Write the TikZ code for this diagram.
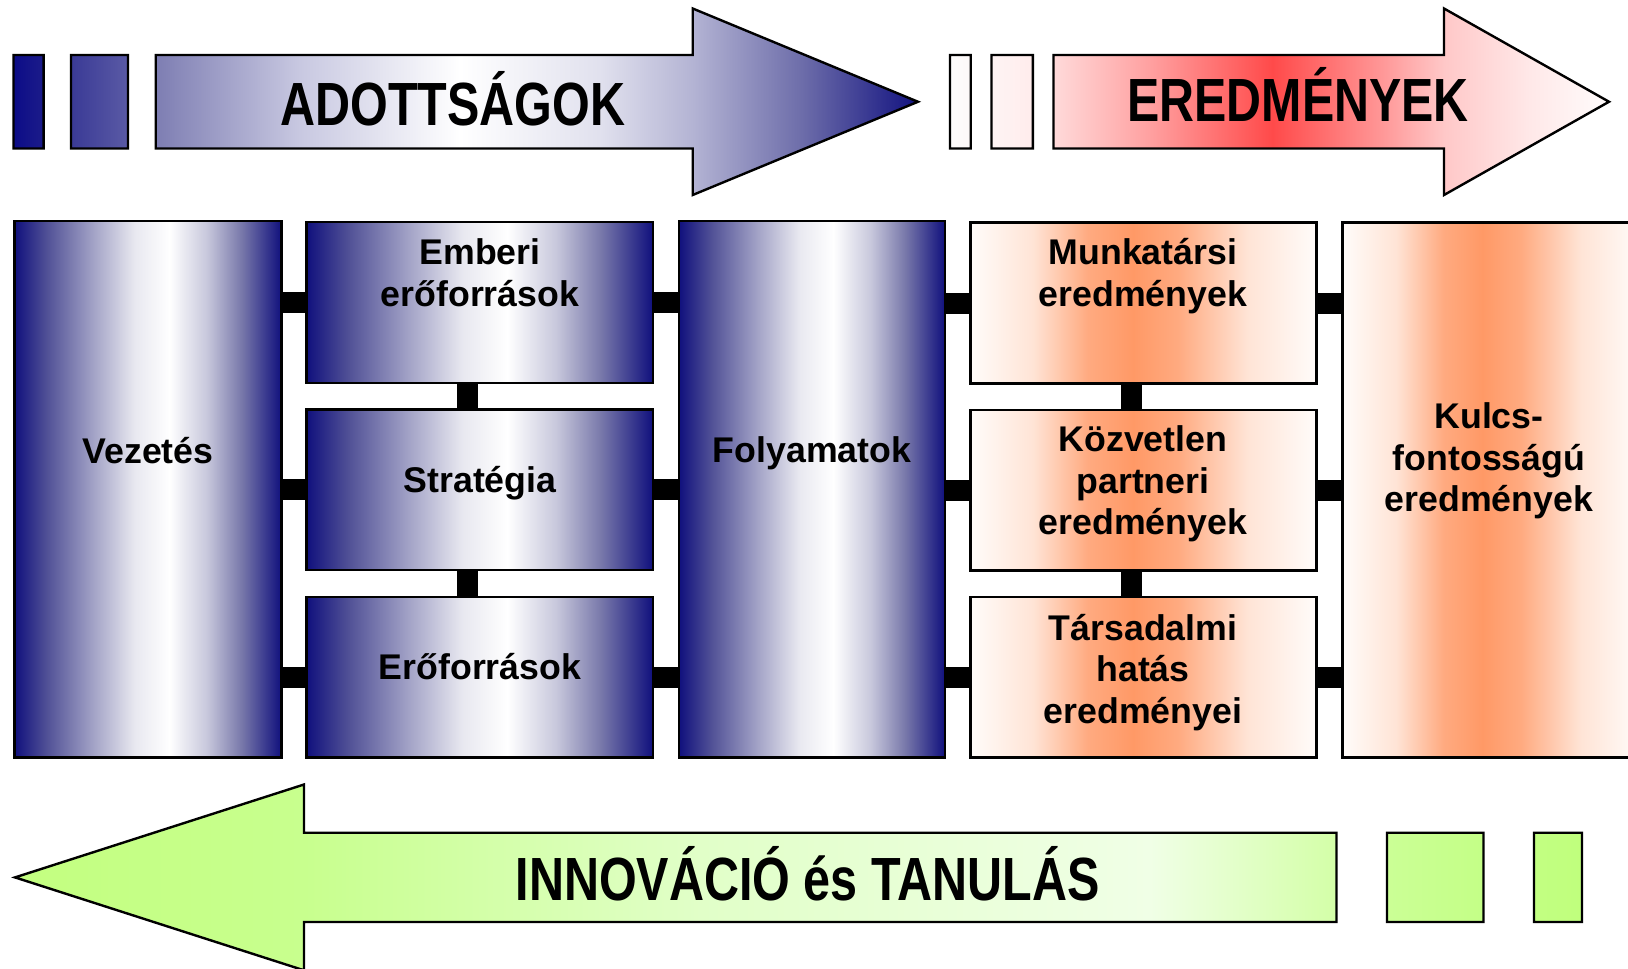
\documentclass[tikz,border=0pt]{standalone}
\usepackage{fontspec}
\setmainfont{Liberation Sans}
\usetikzlibrary{calc}
\newcommand\lnstrut{\rule[-9pt]{0pt}{41.5pt}}
\pgfdeclarehorizontalshading{bluegroup}{100bp}{rgb(0bp)=(.047,.047,.529); rgb(25bp)=(.047,.047,.529); rgb(26.7bp)=(.11,.11,.541); rgb(28.2bp)=(.227,.227,.588); rgb(31.3bp)=(.353,.353,.647); rgb(32.8bp)=(.49,.49,.698); rgb(40.8bp)=(.784,.784,.882); rgb(49.7bp)=(1,1,1); rgb(57.4bp)=(.882,.882,.933); rgb(62.5bp)=(.706,.706,.831); rgb(68.5bp)=(.431,.431,.667); rgb(75bp)=(.071,.071,.502); rgb(100bp)=(.071,.071,.502)}
\pgfdeclarehorizontalshading{redgroup}{100bp}{rgb(0bp)=(.992,.988,.988); rgb(25bp)=(.992,.988,.988); rgb(31.3bp)=(1,.925,.925); rgb(32.85bp)=(1,.855,.855); rgb(40.2bp)=(1,.627,.627); rgb(49.45bp)=(1,.29,.29); rgb(57.64bp)=(1,.588,.588); rgb(62.49bp)=(1,.784,.784); rgb(69bp)=(1,.91,.91); rgb(75bp)=(1,.988,.988); rgb(100bp)=(1,.988,.988)}
\pgfdeclarehorizontalshading{greengroup}{100bp}{rgb(0bp)=(.765,1,.502); rgb(25bp)=(.765,1,.502); rgb(34.24bp)=(.784,1,.557); rgb(46.86bp)=(.882,1,.784); rgb(61.2bp)=(.941,1,.902); rgb(67.13bp)=(.831,1,.659); rgb(68.75bp)=(.796,1,.588); rgb(71.85bp)=(.769,1,.529); rgb(75bp)=(.753,1,.49); rgb(100bp)=(.753,1,.49)}
\pgfdeclarehorizontalshading{bluebox}{100bp}{rgb(0bp)=(.063,.063,.49); rgb(25bp)=(.063,.063,.49); rgb(31bp)=(.314,.314,.588); rgb(40bp)=(.647,.647,.784); rgb(47.5bp)=(.91,.91,.941); rgb(54bp)=(1,1,1); rgb(61bp)=(.784,.784,.863); rgb(67.5bp)=(.471,.471,.667); rgb(75bp)=(.063,.063,.49); rgb(100bp)=(.063,.063,.49)}
\pgfdeclarehorizontalshading{orangebox}{100bp}{rgb(0bp)=(1,.988,.98); rgb(25bp)=(1,.988,.98); rgb(34bp)=(1,.894,.839); rgb(42bp)=(1,.667,.502); rgb(48.5bp)=(1,.6,.4); rgb(55bp)=(1,.667,.502); rgb(65bp)=(1,.894,.839); rgb(75bp)=(1,.988,.98); rgb(100bp)=(1,.988,.98)}
\begin{document}
\begin{tikzpicture}[x=1pt,y=-1pt,
 outl/.style={draw=black,line width=2.4pt,line join=miter},
 boxbase/.style={outl,shade,rectangle,inner sep=0pt,outer sep=0pt,anchor=north west},
 bbox/.style={boxbase,shading=bluebox},
 obox/.style={boxbase,shading=orangebox},
 bar/.style={draw=black,line width=21pt},
 lbl/.style={font=\fontsize{35.7}{41.5}\selectfont\bfseries,align=center,inner sep=0pt,text=black},
 ttl/.style={font=\fontsize{61}{61}\selectfont\bfseries,inner sep=0pt,anchor=base,text=black}]
\useasboundingbox (0,0) rectangle (1628,969);
\clip (0,0) rectangle (1628,969);
% top-left arrow group
\shadedraw[outl,shading=bluegroup]
 (13.5,55) rectangle (43.6,148.5)
 (71,55) rectangle (128,148.5)
 (155.7,55) -- (692.7,55) -- (692.7,8.5) -- (918,101.75) -- (692.7,195) -- (692.7,148.5) -- (155.7,148.5) -- cycle;
% top-right arrow group
\shadedraw[outl,shading=redgroup]
 (950,55) rectangle (970.7,148.5)
 (991.5,55) rectangle (1032.8,148.5)
 (1053.5,55) -- (1444,55) -- (1444,8.5) -- (1609,101.75) -- (1444,195) -- (1444,148.5) -- (1053.5,148.5) -- cycle;
% bottom arrow group
\shadedraw[outl,shading=greengroup]
 (15,877.4) -- (304,784.5) -- (304,832.7) -- (1336.5,832.7) -- (1336.5,922) -- (304,922) -- (304,970.3) -- cycle
 (1387,832.7) rectangle (1483.5,922)
 (1534,832.7) rectangle (1582,922);
% boxes
\node[bbox,minimum width=267pt,minimum height=536.5pt] (vez) at (14.5,221) {};
\node[bbox,minimum width=346.5pt,minimum height=161pt] (emb) at (306.5,222) {};
\node[bbox,minimum width=346.5pt,minimum height=160.5pt] (str) at (306.5,409.5) {};
\node[bbox,minimum width=346.5pt,minimum height=160.5pt] (ero) at (306.5,597) {};
\node[bbox,minimum width=266pt,minimum height=536.5pt] (fol) at (679,221) {};
\node[obox,minimum width=346pt,minimum height=161pt] (mun) at (970.5,222.5) {};
\node[obox,minimum width=346pt,minimum height=160.5pt] (koz) at (970.5,410) {};
\node[obox,minimum width=346pt,minimum height=160.5pt] (tar) at (970.5,597) {};
\node[obox,minimum width=297.5pt,minimum height=535pt] (kul) at (1342.5,222.5) {};
% connectors
\coordinate (vl) at (467,400);
\coordinate (vr) at (1131,400);
\foreach \b in {emb,str,ero} {
 \draw[bar] (vez.east |- \b.west) -- (\b.west);
 \draw[bar] (\b.east) -- (fol.west |- \b.east);
}
\foreach \b in {mun,koz,tar} {
 \draw[bar] (fol.east |- \b.west) -- (\b.west);
 \draw[bar] (\b.east) -- (kul.west |- \b.east);
}
\draw[bar] (emb.south -| vl) -- (str.north -| vl);
\draw[bar] (str.south -| vl) -- (ero.north -| vl);
\draw[bar] (mun.south -| vr) -- (koz.north -| vr);
\draw[bar] (koz.south -| vr) -- (tar.north -| vr);
% labels
\node[lbl] (tvez) at (148,452) {\lnstrut Vezetés};
\node[lbl] (temb) at (480,273.5) {\lnstrut Emberi\\\lnstrut erőforrások};
\node[lbl] (tstr) at (480,481) {\lnstrut Stratégia};
\node[lbl] (tero) at (480,668) {\lnstrut Erőforrások};
\node[lbl] (tfol) at (812,451) {\lnstrut Folyamatok};
\node[lbl] (tmun) at (1143,273.5) {\lnstrut Munkatársi\\\lnstrut eredmények};
\node[lbl] (tkoz) at (1143,481.5) {\lnstrut Közvetlen\\\lnstrut partneri\\\lnstrut eredmények};
\node[lbl] (ttar) at (1143,670) {\lnstrut Társadalmi\\\lnstrut hatás\\\lnstrut eredményei};
\node[lbl] (tkul) at (1489,458.5) {\lnstrut Kulcs-\\\lnstrut fontosságú\\\lnstrut eredmények};
% titles
\node[ttl] (tado) at (453,125.5) {\scalebox{0.795}[1]{ADOTTSÁGOK}};
\node[ttl] (tere) at (1298,121) {\scalebox{0.793}[1]{EREDMÉNYEK}};
\node[ttl] (tinn) at (807.5,900) {\scalebox{0.795}[1]{INNOVÁCIÓ és TANULÁS}};
\end{tikzpicture}
\end{document}
